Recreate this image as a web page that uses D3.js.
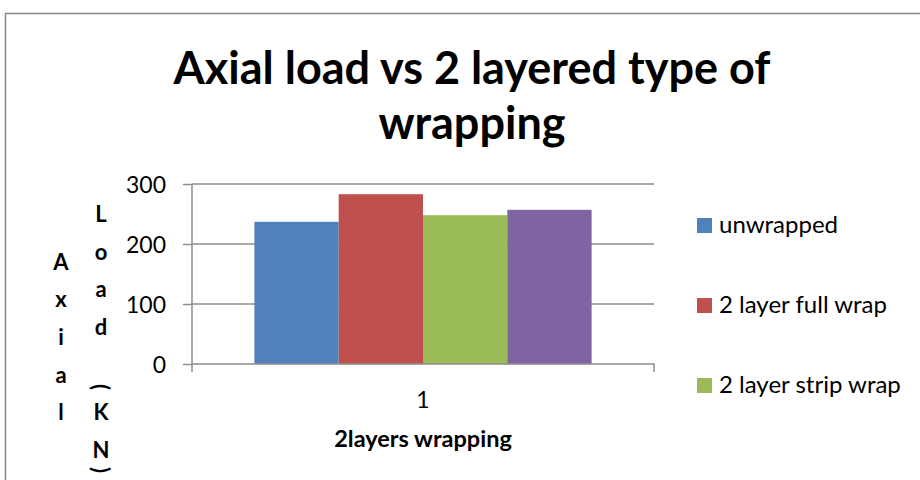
<!DOCTYPE html>
<html>
<head>
<meta charset="utf-8">
<script src="https://cdn.jsdelivr.net/npm/d3@7"></script>
<style>
  body { margin: 0; background: #fff; }
  text { font-family: Lato, "Open Sans", sans-serif; fill: #000; }
</style>
</head>
<body>
<div id="chart"></div>
<script>
// chart data
const categories = ["1"];
const seriesNames = ["unwrapped", "2 layer full wrap", "2 layer strip wrap", "series 4"];
const values = [237, 283, 248, 257];
const colors = ["#4F81BD", "#C0504D", "#9BBB59", "#8064A2"];
const yTicks = [0, 100, 200, 300];
const titleLines = ["Axial load vs 2 layered type of", "wrapping"];
const xTitle = "2layers wrapping";
const yTitleCols = [["A", "x", "i", "a", "l"], ["L", "o", "a", "d", "(", "K", "N", ")"]];
const legendCount = 3; // only three entries fit in the legend

const width = 920, height = 480;
const plot = { left: 192, right: 654, top: 184, bottom: 364 };

const svg = d3.select("#chart")
  .append("svg")
  .attr("width", width)
  .attr("height", height);

// outer chart border
svg.append("rect")
  .attr("x", 5.5).attr("y", 13.5)
  .attr("width", 930).attr("height", 480)
  .attr("fill", "none")
  .attr("stroke", "#888")
  .attr("stroke-width", 1.5);

// title
svg.append("g").selectAll("text")
  .data(titleLines)
  .join("text")
  .attr("x", 472)
  .attr("y", (d, i) => 84 + i * 55)
  .attr("text-anchor", "middle")
  .attr("font-size", 45)
  .attr("font-weight", "bold")
  .text(d => d);

// scales
const x0 = d3.scaleBand()
  .domain(categories)
  .range([plot.left, plot.right])
  .paddingInner(0)
  .paddingOuter(0.185);

const x1 = d3.scaleBand()
  .domain(seriesNames)
  .range([0, x0.bandwidth()]);

const y = d3.scaleLinear()
  .domain([0, 300])
  .range([plot.bottom, plot.top]);

// gridlines
svg.append("g")
  .selectAll("line")
  .data(yTicks.filter(d => d > 0))
  .join("line")
  .attr("x1", plot.left)
  .attr("x2", plot.right)
  .attr("y1", d => y(d))
  .attr("y2", d => y(d))
  .attr("stroke", "#8c8c8c")
  .attr("stroke-width", 1.5);

// bars
svg.append("g")
  .selectAll("rect")
  .data(values)
  .join("rect")
  .attr("x", (d, i) => x0(categories[0]) + x1(seriesNames[i]))
  .attr("y", d => y(d))
  .attr("width", x1.bandwidth())
  .attr("height", d => y(0) - y(d))
  .attr("fill", (d, i) => colors[i]);

// left axis
const leftAxis = d3.axisLeft(y)
  .tickValues(yTicks)
  .tickSize(9)
  .tickPadding(17);

const gy = svg.append("g")
  .attr("transform", `translate(${plot.left},0)`)
  .call(leftAxis);
gy.select(".domain").attr("stroke", "#8c8c8c").attr("stroke-width", 1.5)
  .attr("d", `M0,${plot.top}V${plot.bottom + 8}`);
gy.selectAll(".tick line").attr("stroke", "#8c8c8c").attr("stroke-width", 1.5);
gy.selectAll(".tick text")
  .attr("font-size", 23)
  .attr("font-family", "Lato, sans-serif")
  .attr("fill", "#000")
  .attr("dy", "0.36em");

// bottom axis
const bottomAxis = d3.axisBottom(x0).tickSize(0).tickPadding(28);
const gx = svg.append("g")
  .attr("transform", `translate(0,${plot.bottom})`)
  .call(bottomAxis);
gx.select(".domain").attr("stroke", "#8c8c8c").attr("stroke-width", 1.5)
  .attr("d", `M${plot.left},0H${plot.right}V8`);
gx.selectAll(".tick text")
  .attr("font-size", 23)
  .attr("font-family", "Lato, sans-serif")
  .attr("fill", "#000");

// x axis title
svg.append("text")
  .attr("x", (plot.left + plot.right) / 2)
  .attr("y", 447)
  .attr("text-anchor", "middle")
  .attr("font-size", 23.5)
  .attr("font-weight", "bold")
  .text(xTitle);

// y axis title, stacked letters in two columns
const colX = [61, 101];
const colY = [
  [270, 307, 345, 383, 420],
  [222, 260, 297, 335, 387, 420, 458, 470]
];
yTitleCols.forEach((col, c) => {
  svg.append("g").selectAll("text")
    .data(col)
    .join("text")
    .attr("font-size", 22)
    .attr("font-weight", "bold")
    .attr("text-anchor", "middle")
    .attr("transform", (d, i) => {
      const yy = colY[c][i];
      if (d === "(" || d === ")") return `translate(${colX[c]},${yy}) rotate(90)`;
      return `translate(${colX[c]},${yy})`;
    })
    .attr("dy", d => (d === "(" || d === ")") ? "0.35em" : 0)
    .text(d => d);
});

// legend
const legend = svg.append("g")
  .selectAll("g")
  .data(seriesNames.slice(0, legendCount))
  .join("g")
  .attr("transform", (d, i) => `translate(697,${218 + i * 80})`);

legend.append("rect")
  .attr("width", 15)
  .attr("height", 15)
  .attr("fill", (d, i) => colors[i]);

legend.append("text")
  .attr("x", 22)
  .attr("y", 15)
  .attr("font-size", 24)
  .text(d => d);
</script>
</body>
</html>
